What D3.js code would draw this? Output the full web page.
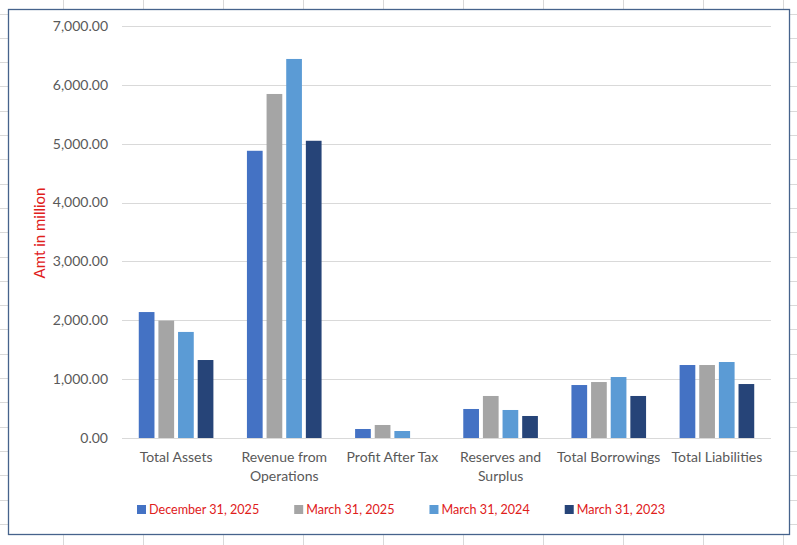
<!DOCTYPE html>
<html>
<head>
<meta charset="utf-8">
<script src="https://cdn.jsdelivr.net/npm/d3@7"></script>
<style>
  body { margin: 0; background: #fff; }
  svg { display: block; font-family: Lato, "Open Sans", sans-serif; }
</style>
</head>
<body>
<div id="chart"></div>
<script>
// Data
const categories = ["Total Assets", "Revenue from Operations", "Profit After Tax", "Reserves and Surplus", "Total Borrowings", "Total Liabilities"];
const seriesNames = ["December 31, 2025", "March 31, 2025", "March 31, 2024", "March 31, 2023"];
const dec2025 = [2140, 4880, 153, 493, 900, 1240];
const mar2025 = [1995, 5845, 221, 714, 951, 1240];
const mar2024 = [1802, 6440, 119, 476, 1036, 1291];
const mar2023 = [1325, 5050, 0, 374, 714, 917];
const yTicks = [0, 1000, 2000, 3000, 4000, 5000, 6000, 7000];
const colors = ["#4472c4", "#a5a5a5", "#5b9bd5", "#264478"];

const allSeries = [dec2025, mar2025, mar2024, mar2023];

const width = 797, height = 545;
const svg = d3.select("#chart").append("svg")
  .attr("width", width)
  .attr("height", height);

// spreadsheet cells behind the chart
const cellLine = "#d9d9d9";
d3.range(63, width, 80).forEach(x => {
  svg.append("line").attr("x1", x + 0.5).attr("x2", x + 0.5).attr("y1", 0).attr("y2", height)
    .attr("stroke", cellLine);
});
d3.range(13.5, height, 24.3).forEach(y => {
  svg.append("line").attr("x1", 0).attr("x2", width).attr("y1", Math.round(y) + 0.5).attr("y2", Math.round(y) + 0.5)
    .attr("stroke", cellLine);
});

// chart frame
svg.append("rect")
  .attr("x", 8.5).attr("y", 9.5)
  .attr("width", 781).attr("height", 525)
  .attr("fill", "#fff")
  .attr("stroke", "#46638c")
  .attr("stroke-width", 1.3);

const plot = { left: 122, right: 771, top: 26, bottom: 438 };

const y = d3.scaleLinear().domain([0, 7000]).range([plot.bottom, plot.top]);
const x0 = d3.scaleBand().domain(categories).range([plot.left, plot.right])
  .paddingInner(0.31).paddingOuter(0.155);
const x1 = d3.scaleBand().domain(d3.range(4)).range([0, x0.bandwidth()]).paddingInner(0.2);

// gridlines
svg.append("g")
  .selectAll("line")
  .data(yTicks)
  .join("line")
  .attr("x1", plot.left).attr("x2", plot.right)
  .attr("y1", d => Math.round(y(d)) + 0.5)
  .attr("y2", d => Math.round(y(d)) + 0.5)
  .attr("stroke", "#d9d9d9")
  .attr("stroke-width", 1);

// y tick labels
svg.append("g")
  .selectAll("text")
  .data(yTicks)
  .join("text")
  .attr("x", 108)
  .attr("y", d => y(d))
  .attr("dy", "0.35em")
  .attr("text-anchor", "end")
  .attr("fill", "#595959")
  .style("font-size", "14px")
  .text(d => d3.format(",.2f")(d));

// bars
const groups = svg.append("g")
  .selectAll("g")
  .data(categories)
  .join("g")
  .attr("transform", d => `translate(${x0(d)},0)`);

groups.selectAll("rect")
  .data((d, i) => allSeries.map((s, k) => ({ k, v: s[i] })))
  .join("rect")
  .attr("x", d => x1(d.k))
  .attr("width", x1.bandwidth())
  .attr("y", d => y(d.v))
  .attr("height", d => y(0) - y(d.v))
  .attr("fill", d => colors[d.k]);

// category labels (wrapped)
const catLines = {
  "Revenue from Operations": ["Revenue from", "Operations"],
  "Reserves and Surplus": ["Reserves and", "Surplus"]
};
const catText = svg.append("g")
  .selectAll("text")
  .data(categories)
  .join("text")
  .attr("x", d => x0(d) + x0.bandwidth() / 2)
  .attr("y", 462)
  .attr("text-anchor", "middle")
  .attr("fill", "#595959")
  .style("font-size", "14px");
catText.each(function(d) {
  const lines = catLines[d] || [d];
  d3.select(this).selectAll("tspan")
    .data(lines)
    .join("tspan")
    .attr("x", x0(d) + x0.bandwidth() / 2)
    .attr("dy", (l, i) => i === 0 ? 0 : 19)
    .text(l => l);
});

// y axis title
svg.append("text")
  .attr("transform", "translate(45,233) rotate(-90)")
  .attr("text-anchor", "middle")
  .attr("fill", "#e0201b")
  .style("font-size", "15px")
  .text("Amt in million");

// legend
const legend = svg.append("g");
const items = legend.selectAll("g")
  .data(seriesNames)
  .join("g");
items.append("rect")
  .attr("width", 9).attr("height", 9)
  .attr("y", -9)
  .attr("fill", (d, i) => colors[i]);
items.append("text")
  .attr("x", 12)
  .attr("fill", "#e0201b")
  .style("font-size", "12.6px")
  .text(d => d);
let lx = 0;
items.each(function() {
  const g = d3.select(this);
  g.attr("transform", `translate(${lx},0)`);
  lx += 12 + g.select("text").node().getComputedTextLength() + 35;
});
const legendWidth = lx - 35;
legend.attr("transform", `translate(${401 - legendWidth / 2},514)`);
</script>
</body>
</html>
